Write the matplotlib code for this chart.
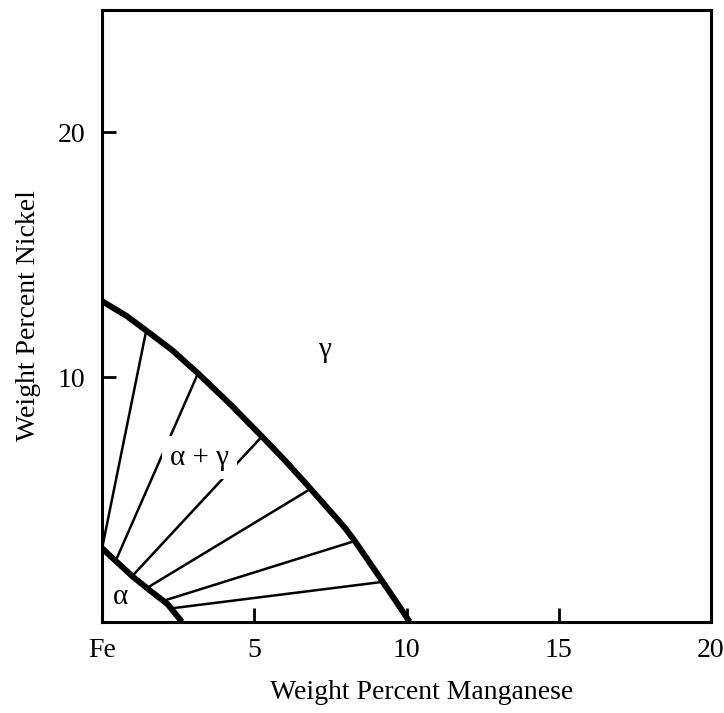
import matplotlib
matplotlib.use('Agg')
import matplotlib.pyplot as plt

plt.rcParams['font.family'] = ['Liberation Serif', 'DejaVu Serif']

# gamma / (alpha + gamma) boundary, wt% Mn vs wt% Ni
gamma_mn = [0.0, 0.8, 1.45, 2.3, 3.15, 4.2, 5.25, 6.0, 6.8, 7.58, 8.0, 8.3, 8.76, 9.22, 9.66, 10.1]
gamma_ni = [13.1, 12.5, 11.9, 11.1, 10.15, 8.9, 7.57, 6.6, 5.5, 4.4, 3.8, 3.3, 2.47, 1.63, 0.82, 0.0]

# alpha / (alpha + gamma) boundary
alpha_mn = [0.0, 1.0, 1.6, 2.15, 2.62]
alpha_ni = [3.0, 1.85, 1.25, 0.72, 0.0]

# tie lines: (alpha side) -> (gamma side)
tie_alpha_mn = [0.0, 0.45, 1.0, 1.5, 2.0, 2.3]
tie_alpha_ni = [3.0, 2.5, 1.88, 1.4, 0.85, 0.55]
tie_gamma_mn = [1.45, 3.15, 5.25, 6.85, 8.3, 9.22]
tie_gamma_ni = [11.9, 10.15, 7.57, 5.43, 3.3, 1.63]

xticks = [0, 5, 10, 15, 20]
xtick_labels = ['Fe', '5', '10', '15', '20']
yticks = [10, 20]

fig = plt.figure(figsize=(7.24, 7.13), dpi=100)
ax = fig.add_axes([0.141, 0.128, 0.841, 0.858])

for x0, y0, x1, y1 in zip(tie_alpha_mn, tie_alpha_ni, tie_gamma_mn, tie_gamma_ni):
    ax.plot([x0, x1], [y0, y1], color='black', lw=1.8, zorder=2)

ax.plot(gamma_mn, gamma_ni, color='black', lw=4.3, solid_capstyle='butt',
        solid_joinstyle='round', zorder=4)
ax.plot(alpha_mn, alpha_ni, color='black', lw=4.3, solid_capstyle='butt',
        solid_joinstyle='round', zorder=4)

ax.text(7.3, 11.1, 'γ', fontsize=21, ha='center', va='center')
ax.text(3.2, 6.7, 'α + γ', fontsize=21, ha='center', va='center', zorder=3,
        bbox=dict(fc='white', ec='none', pad=6))
ax.text(0.6, 1.0, 'α', fontsize=21, ha='center', va='center')

ax.set_xlim(0, 20)
ax.set_ylim(0, 25)
ax.set_xticks(xticks, xtick_labels)
ax.set_yticks(yticks)
ax.tick_params(direction='in', length=10, width=2, labelsize=20, pad=12)
for s in ax.spines.values():
    s.set_linewidth(2.2)

ax.set_xlabel('Weight Percent Manganese', fontsize=20)
ax.xaxis.set_label_coords(0.525, -0.095)
ax.set_ylabel('Weight Percent Nickel', fontsize=20)
ax.yaxis.set_label_coords(-0.10, 0.5)

fig.savefig('out.png', dpi=100)
